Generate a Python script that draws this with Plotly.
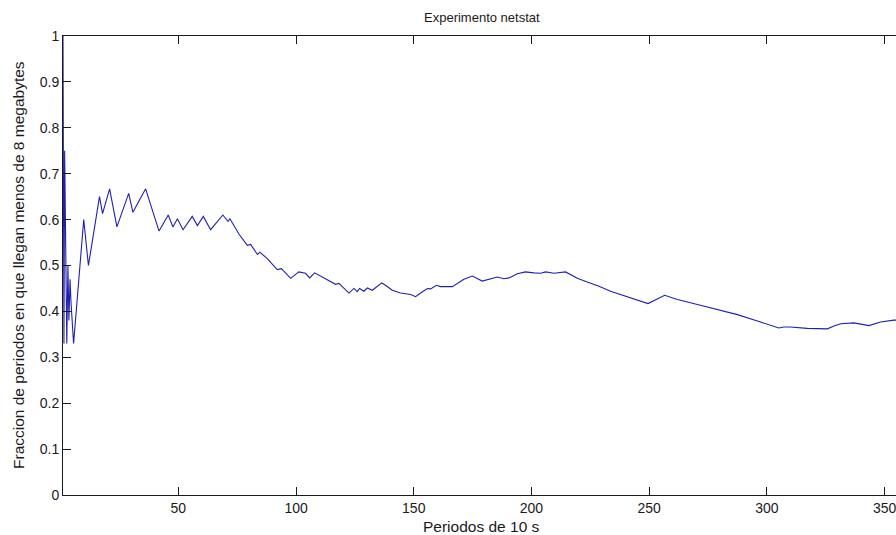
import plotly.graph_objects as go

# Values (vertices of the line)
periodos = [1, 1.4, 1.7, 2.2, 2.6, 3.1, 3.5, 4, 4.4, 5.5, 9.8, 11.8, 16.5, 17.8, 20.8, 23.9,
            28.9, 30.7, 36.1, 41.8, 45.7, 47.7, 49.6, 52, 55.9, 58.1, 60.6, 63.7, 68.9,
            71.1, 71.9, 75.8, 79.3, 80.7, 83.6, 84.6, 87.8, 92, 93.8, 97.7, 101.2, 104,
            105.8, 107.9, 111.9, 116.8, 118.2, 122.5, 124.6, 126, 127, 128.8, 130.3,
            132.4, 136.4, 138, 140.9, 144.4, 148.7, 150.8, 152.9, 155.8, 157.2, 159.6,
            161.4, 166.4, 171.3, 174.9, 179.1, 181.9, 185.5, 188.3, 190.5, 194, 197.5,
            201, 203.9, 206, 209.6, 214.5, 219.5, 223.7, 228.7, 233.6, 242, 249.5, 256.6,
            262, 270.5, 279, 287.5, 296, 301.6, 305.1, 307.2, 310, 317.2, 321.5, 325.7,
            328.5, 331.4, 337, 340.5, 343.4, 348.3, 354, 357]
fraccion = [1.0, 0.33, 0.75, 0.46, 0.33, 0.5, 0.38, 0.47, 0.42, 0.33, 0.6, 0.5, 0.65, 0.613,
            0.667, 0.584, 0.657, 0.616, 0.667, 0.575, 0.61, 0.584, 0.602, 0.578, 0.607,
            0.587, 0.607, 0.578, 0.61, 0.596, 0.602, 0.568, 0.544, 0.546, 0.524, 0.529,
            0.515, 0.491, 0.493, 0.472, 0.486, 0.483, 0.473, 0.484, 0.473, 0.459, 0.461,
            0.44, 0.45, 0.443, 0.45, 0.444, 0.451, 0.446, 0.462, 0.457, 0.446, 0.44,
            0.437, 0.432, 0.44, 0.45, 0.449, 0.457, 0.454, 0.454, 0.47, 0.477, 0.466,
            0.47, 0.475, 0.471, 0.473, 0.482, 0.486, 0.484, 0.483, 0.486, 0.483, 0.486,
            0.472, 0.464, 0.455, 0.444, 0.43, 0.417, 0.435, 0.426, 0.415, 0.404, 0.393,
            0.379, 0.369, 0.364, 0.366, 0.366, 0.363, 0.362, 0.362, 0.368, 0.373, 0.375,
            0.372, 0.369, 0.377, 0.381, 0.381]

x_ticks = [50, 100, 150, 200, 250, 300, 350]
y_ticks = [0, 0.1, 0.2, 0.3, 0.4, 0.5, 0.6, 0.7, 0.8, 0.9, 1]
y_tick_labels = ["0", "0.1", "0.2", "0.3", "0.4", "0.5", "0.6", "0.7", "0.8", "0.9", "1"]

FONT = "Liberation Sans, Arial, sans-serif"
INK = "#1a1a1a"

fig = go.Figure()
fig.add_trace(go.Scatter(x=periodos, y=fraccion, mode="lines",
                         line=dict(color="#2020b0", width=1.1), hoverinfo="skip"))

W, H = 896, 535
L, R, T, B = 63, 0, 36, 40
pw, ph = W - L - R, H - T - B

def px_x(p):
    return (p - L) / pw

def px_y(p):
    return (H - B - p) / ph

fig.update_layout(
    width=W, height=H,
    margin=dict(l=L, r=R, t=T, b=B, pad=0),
    paper_bgcolor="white", plot_bgcolor="white",
    showlegend=False,
    font=dict(family=FONT, size=14, color=INK),
    xaxis=dict(range=[1, 1 + pw / 2.354], tickvals=x_ticks, ticks="inside", ticklen=8,
               tickcolor=INK, showline=True, linecolor=INK, linewidth=1,
               mirror="ticks", showgrid=False, zeroline=False,
               ticklabeloverflow="allow",
               tickfont=dict(family=FONT, size=14, color=INK)),
    yaxis=dict(range=[0, 1], tickvals=y_ticks, ticktext=y_tick_labels, ticks="inside",
               ticklen=8, tickcolor=INK, showline=True, linecolor=INK,
               linewidth=1, mirror=False, showgrid=False, zeroline=False,
               tickfont=dict(family=FONT, size=14, color=INK)),
    annotations=[
        dict(text="Experimento netstat", xref="paper", yref="paper",
             x=px_x(482), y=px_y(18), xanchor="center", yanchor="middle",
             showarrow=False, font=dict(family=FONT, size=13, color=INK)),
        dict(text="Periodos de 10 s", xref="paper", yref="paper",
             x=px_x(482), y=px_y(526), xanchor="center", yanchor="middle",
             showarrow=False, font=dict(family=FONT, size=15.5, color=INK)),
        dict(text="Fraccion de periodos en que llegan menos de 8 megabytes",
             xref="paper", yref="paper", x=px_x(18), y=px_y(265),
             xanchor="center", yanchor="middle", textangle=-90,
             showarrow=False, font=dict(family=FONT, size=15.5, color=INK)),
    ],
)

fig.write_html("out.html")
